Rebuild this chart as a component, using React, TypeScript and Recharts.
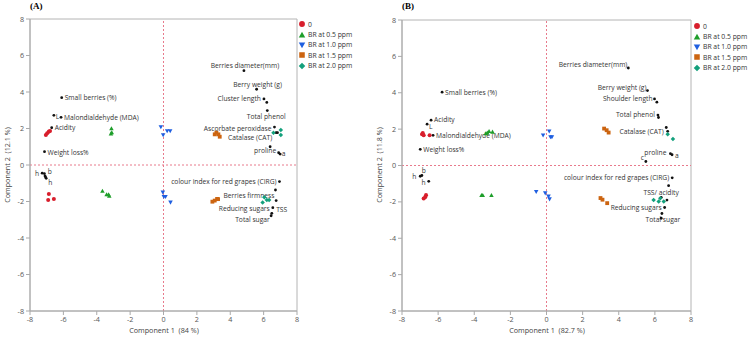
import { ScatterChart, Scatter, XAxis, YAxis, ZAxis, ReferenceLine, ReferenceArea } from 'recharts';

type Pt = { x: number; y: number };
type Loading = { id: string; text: string; x: number; y: number };
type Place = [number, number, 'start' | 'middle' | 'end'];

const axisTicks = [-8, -6, -4, -2, 0, 2, 4, 6, 8];

const groupNames = ['0', 'BR at 0.5 ppm', 'BR at 1.0 ppm', 'BR at 1.5 ppm', 'BR at 2.0 ppm'];
const groupColors = ['#d81e2c', '#1e9e2a', '#1f5fe0', '#cc6410', '#13a07c'];
const groupSymbols = ['circle', 'triangle', 'triangleDown', 'square', 'diamond'];

// scores, panel A
const scoresA0: Pt[] = [
  { x: -7.05, y: 1.64 }, { x: -6.97, y: 1.74 }, { x: -6.87, y: 1.83 }, { x: -6.8, y: 1.86 },
  { x: -6.87, y: -1.59 }, { x: -6.91, y: -1.92 }, { x: -6.57, y: -1.86 },
];
const scoresA05: Pt[] = [
  { x: -3.12, y: 2.0 }, { x: -3.1, y: 1.78 }, { x: -3.15, y: 1.72 },
  { x: -3.66, y: -1.42 }, { x: -3.41, y: -1.61 }, { x: -3.29, y: -1.61 }, { x: -3.25, y: -1.7 },
];
const scoresA10: Pt[] = [
  { x: -0.16, y: 2.08 }, { x: -0.02, y: 1.64 }, { x: 0.22, y: 1.86 }, { x: 0.4, y: 1.86 },
  { x: -0.04, y: -1.5 }, { x: 0.02, y: -1.74 }, { x: 0.12, y: -1.74 }, { x: 0.42, y: -2.05 },
];
const scoresA15: Pt[] = [
  { x: 3.07, y: 1.68 }, { x: 3.17, y: 1.77 }, { x: 3.29, y: 1.68 }, { x: 3.37, y: 1.55 },
  { x: 2.93, y: -2.01 }, { x: 3.07, y: -1.95 }, { x: 3.21, y: -1.86 }, { x: 3.27, y: -1.87 },
];
const scoresA20: Pt[] = [
  { x: 6.59, y: 1.77 }, { x: 7.03, y: 1.92 }, { x: 7.03, y: 1.64 },
  { x: 5.94, y: -2.05 }, { x: 6.04, y: -1.77 }, { x: 6.19, y: -1.92 }, { x: 6.33, y: -1.92 },
];

// scores, panel B
const scoresB0: Pt[] = [
  { x: -6.89, y: 1.72 }, { x: -6.8, y: 1.66 }, { x: -6.47, y: 1.66 }, { x: -6.85, y: 1.78 },
  { x: -6.8, y: -1.81 }, { x: -6.67, y: -1.63 }, { x: -6.72, y: -1.75 },
];
const scoresB05: Pt[] = [
  { x: -3.36, y: 1.76 }, { x: -3.18, y: 1.88 }, { x: -2.99, y: 1.85 }, { x: -3.28, y: 1.8 },
  { x: -3.6, y: -1.63 }, { x: -3.53, y: -1.63 }, { x: -3.05, y: -1.63 },
];
const scoresB10: Pt[] = [
  { x: -0.19, y: 1.66 }, { x: 0.15, y: 1.88 }, { x: 0.22, y: 1.57 }, { x: 0.3, y: 1.57 },
  { x: -0.57, y: -1.44 }, { x: -0.07, y: -1.52 }, { x: 0.11, y: -1.7 }, { x: 0.17, y: -1.85 },
];
const scoresB15: Pt[] = [
  { x: 3.19, y: 2.03 }, { x: 3.33, y: 1.94 }, { x: 3.44, y: 1.81 },
  { x: 2.99, y: -1.79 }, { x: 3.1, y: -1.88 }, { x: 3.36, y: -2.07 },
];
const scoresB20: Pt[] = [
  { x: 6.71, y: 1.72 }, { x: 7.0, y: 1.46 },
  { x: 5.93, y: -1.9 }, { x: 6.21, y: -1.98 }, { x: 6.3, y: -1.8 }, { x: 6.49, y: -1.98 },
];

// variable loadings, panel A
const loadingsA: Loading[] = [
  { id: 'sb', text: 'Small berries (%)', x: -6.1, y: 3.69 },
  { id: 'L', text: 'L', x: -6.57, y: 2.72 },
  { id: 'mda', text: 'Malondialdehyde (MDA)', x: -6.14, y: 2.61 },
  { id: 'ac', text: 'Acidity', x: -6.7, y: 2.04 },
  { id: 'wl', text: 'Weight loss%', x: -7.13, y: 0.73 },
  { id: 'bd', text: 'Berries diameter(mm)', x: 4.82, y: 5.17 },
  { id: 'bw', text: 'Berry weight (g)', x: 5.58, y: 4.15 },
  { id: 'cl', text: 'Cluster length', x: 6.02, y: 3.62 },
  { id: 'cl2', text: '', x: 6.19, y: 3.43 },
  { id: 'tp', text: 'Total phenol', x: 6.22, y: 2.98 },
  { id: 'apx', text: 'Ascorbate peroxidase', x: 6.65, y: 2.08 },
  { id: 'cat', text: 'Catalase (CAT)', x: 6.75, y: 1.77 },
  { id: 'cat2', text: '', x: 6.83, y: 1.77 },
  { id: 'pro', text: 'proline', x: 6.39, y: 1.0 },
  { id: 'a', text: 'a', x: 6.9, y: 0.67 },
  { id: 'a2', text: '', x: 6.99, y: 0.6 },
  { id: 'b', text: 'b', x: -7.14, y: -0.47 },
  { id: 'h', text: 'h', x: -7.27, y: -0.45 },
  { id: 'h2', text: 'h', x: -7.03, y: -0.73 },
  { id: 'k1', text: '', x: -7.1, y: -0.6 },
  { id: 'k2', text: '', x: -7.07, y: -0.66 },
  { id: 'cirg', text: 'colour index for red grapes (CIRG)', x: 6.95, y: -0.91 },
  { id: 'bf', text: 'Berries firmness', x: 6.71, y: -1.37 },
  { id: 'tss', text: 'TSS', x: 6.75, y: -1.95 },
  { id: 'rs', text: 'Reducing sugars', x: 6.55, y: -2.34 },
  { id: 'ts', text: 'Total sugar', x: 6.49, y: -2.65 },
  { id: 'ts2', text: '', x: 6.45, y: -2.78 },
];

// variable loadings, panel B
const loadingsB: Loading[] = [
  { id: 'sb', text: 'Small berries (%)', x: -5.78, y: 4.03 },
  { id: 'ac', text: 'Acidity', x: -6.39, y: 2.49 },
  { id: 'L', text: 'L', x: -6.61, y: 2.27 },
  { id: 'mda', text: 'Malondialdehyde (MDA)', x: -6.28, y: 1.66 },
  { id: 'wl', text: 'Weight loss%', x: -6.99, y: 0.89 },
  { id: 'bd', text: 'Berries diameter(mm)', x: 4.53, y: 5.36 },
  { id: 'bw', text: 'Berry weight (g)', x: 5.59, y: 4.12 },
  { id: 'sl', text: 'Shoulder length', x: 5.98, y: 3.66 },
  { id: 'sl2', text: '', x: 6.11, y: 3.48 },
  { id: 'tp', text: 'Total phenol', x: 6.17, y: 2.77 },
  { id: 'tp2', text: '', x: 6.2, y: 2.64 },
  { id: 'cat2', text: '', x: 6.63, y: 2.09 },
  { id: 'cat', text: 'Catalase (CAT)', x: 6.71, y: 1.88 },
  { id: 'pro', text: 'proline', x: 6.86, y: 0.65 },
  { id: 'a', text: 'a', x: 6.95, y: 0.59 },
  { id: 'c', text: 'c', x: 5.5, y: 0.22 },
  { id: 'h', text: 'h', x: -6.99, y: -0.59 },
  { id: 'b', text: 'b', x: -6.9, y: -0.55 },
  { id: 'h2', text: 'h', x: -6.52, y: -0.87 },
  { id: 'cirg', text: 'colour index for red grapes (CIRG)', x: 6.96, y: -0.68 },
  { id: 'u1', text: '', x: 6.76, y: -1.11 },
  { id: 'tssa', text: 'TSS/ acidity', x: 6.35, y: -1.75 },
  { id: 'u2', text: '', x: 6.67, y: -1.9 },
  { id: 'rs', text: 'Reducing sugars', x: 6.54, y: -2.31 },
  { id: 'ts', text: 'Total sugar', x: 6.39, y: -2.64 },
  { id: 'ts2', text: '', x: 6.35, y: -2.9 },
];

// label offsets from their point: dx, dy, anchor
const labelPosA: Record<string, Place> = {
  sb: [3, 0, 'start'], L: [2, 1, 'start'], mda: [3, 0.5, 'start'], ac: [3, 0, 'start'],
  wl: [3, 0.5, 'start'], bd: [1, -5, 'middle'], bw: [1, -4.5, 'middle'], cl: [-3, 0, 'end'],
  tp: [-1, 5.5, 'middle'], apx: [-3, 1, 'end'], cat: [-4, 5, 'end'], pro: [-5, 4, 'middle'],
  a: [3, 1, 'start'], b: [3.5, -2, 'start'], h: [-3, 0, 'end'], h2: [2, 4.5, 'start'],
  cirg: [-3, 0, 'end'], bf: [-1, 5, 'end'], tss: [0, 8.5, 'start'], rs: [-3, 0.5, 'end'],
  ts: [-2, 6, 'end'],
};
const labelPosB: Record<string, Place> = {
  sb: [3, 0, 'start'], ac: [3, -1, 'start'], L: [2, 2, 'start'], mda: [3, 0.5, 'start'],
  wl: [3, 0, 'start'], bd: [-1, -4, 'end'], bw: [-1, -3.5, 'end'], sl: [-2, 0, 'end'],
  tp: [-3, -1, 'end'], cat: [-4, 0, 'end'], pro: [-4, -1.5, 'end'], a: [3, 1, 'start'],
  c: [-2, -4, 'end'], h: [-4, 0, 'end'], b: [0, -5, 'start'], h2: [-3, 1, 'end'],
  cirg: [-3, 0, 'end'], tssa: [0, -5, 'middle'], rs: [-3, 0, 'end'], ts: [1, 6, 'middle'],
};

const FONT = '"Open Sans", "Noto Sans", sans-serif';

function Marker({ kind, cx, cy, color, s }: { kind: string; cx: number; cy: number; color: string; s: number }) {
  const h = s / 2;
  switch (kind) {
    case 'triangle':
      return <polygon points={`${cx},${cy - h} ${cx + h},${cy + h * 0.8} ${cx - h},${cy + h * 0.8}`} fill={color} />;
    case 'triangleDown':
      return <polygon points={`${cx - h},${cy - h * 0.8} ${cx + h},${cy - h * 0.8} ${cx},${cy + h}`} fill={color} />;
    case 'square':
      return <rect x={cx - h * 0.85} y={cy - h * 0.85} width={s * 0.85} height={s * 0.85} fill={color} />;
    case 'diamond':
      return <polygon points={`${cx},${cy - h} ${cx + h},${cy} ${cx},${cy + h} ${cx - h},${cy}`} fill={color} />;
    default:
      return <circle cx={cx} cy={cy} r={h * 0.9} fill={color} />;
  }
}

function Legend({ left, top }: { left: number; top: number }) {
  return (
    <div style={{ position: 'absolute', left, top, fontFamily: FONT, fontSize: 6.8, color: '#333', whiteSpace: 'nowrap', width: 56 }}>
      {groupNames.map((name, i) => (
        <div key={name} style={{ display: 'flex', alignItems: 'center', height: 10.4 }}>
          <svg width={8} height={8} style={{ marginRight: 2, flex: 'none' }}>
            <Marker kind={groupSymbols[i]} cx={4} cy={4} color={groupColors[i]} s={6.5} />
          </svg>
          <span>{name}</span>
        </div>
      ))}
    </div>
  );
}

interface PanelProps {
  left: number;
  title: string;
  xTitle: string;
  yTitle: string;
  scores: Pt[][];
  loadings: Loading[];
  labelPos: Record<string, Place>;
  margin: { top: number; right: number; bottom: number; left: number };
  yTitleX: number;
  xTitleCx: number;
  legendLeft: number;
  legendTop: number;
}

function Panel(p: PanelProps) {
  const tick = { fontSize: 7.2, fill: '#555', fontFamily: FONT };
  const loadingShape = (props: any) => {
    const { cx, cy, payload } = props;
    const pos = p.labelPos[payload.id];
    return (
      <g>
        <circle cx={cx} cy={cy} r={1.4} fill="#111" />
        {payload.text && pos && (
          <text x={cx + pos[0]} y={cy + pos[1]} textAnchor={pos[2]} dominantBaseline="central"
            fontSize={6.7} fontFamily={FONT} fill="#333">{payload.text}</text>
        )}
      </g>
    );
  };
  return (
    <div style={{ position: 'absolute', left: p.left, top: 0, width: 375, height: 338 }}>
      <div style={{ position: 'absolute', left: p.margin.left + 22, top: 1, fontFamily: '"Liberation Serif", serif', fontWeight: 'bold', fontSize: 9 }}>{p.title}</div>
      <ScatterChart width={375} height={338} margin={p.margin}>
        <XAxis type="number" dataKey="x" domain={[-8, 8]} ticks={axisTicks} allowDataOverflow height={20}
          tick={tick} tickSize={4} tickLine={{ stroke: '#aaa' }} axisLine={{ stroke: '#aaa' }} />
        <YAxis type="number" dataKey="y" domain={[-8, 8]} ticks={axisTicks} allowDataOverflow width={22}
          tick={tick} tickSize={4} tickLine={{ stroke: '#aaa' }} axisLine={{ stroke: '#aaa' }} />
        <ZAxis range={[20, 20]} />
        <ReferenceArea x1={-8} x2={8} y1={-8} y2={8} fill="none" stroke="#b4b4b4" ifOverflow="visible" />
        <ReferenceLine x={0} stroke="#e87a8c" strokeDasharray="2 2" />
        <ReferenceLine y={0} stroke="#e87a8c" strokeDasharray="2 2" />
        <Scatter data={p.loadings} shape={loadingShape} isAnimationActive={false} />
        {p.scores.map((d, i) => (
          <Scatter key={groupNames[i]} name={groupNames[i]} data={d} isAnimationActive={false}
            shape={(s: any) => <Marker kind={groupSymbols[i]} cx={s.cx} cy={s.cy} color={groupColors[i]} s={4.5} />} />
        ))}
      </ScatterChart>
      <div style={{ position: 'absolute', left: p.yTitleX - 50, top: 160, width: 100, textAlign: 'center', transform: 'rotate(-90deg)', fontFamily: FONT, fontSize: 7.2, color: '#444', whiteSpace: 'pre' }}>{p.yTitle}</div>
      <div style={{ position: 'absolute', left: p.xTitleCx - 60, top: 325, width: 120, textAlign: 'center', fontFamily: FONT, fontSize: 7.2, color: '#444', whiteSpace: 'pre' }}>{p.xTitle}</div>
      <Legend left={p.legendLeft} top={p.legendTop} />
    </div>
  );
}

export default function App() {
  return (
    <div style={{ position: 'absolute', left: 0, top: 0, width: 750, height: 338, background: '#fff', overflow: 'hidden' }}>
      <Panel left={0} title="(A)" xTitle="Component 1  (84 %)" yTitle="Component 2  (12.1 %)"
        scores={[scoresA0, scoresA05, scoresA10, scoresA15, scoresA20]} loadings={loadingsA} labelPos={labelPosA}
        margin={{ top: 19, right: 78, bottom: 7, left: 8 }} yTitleX={7} xTitleCx={164} legendLeft={298} legendTop={19} />
      <Panel left={375} title="(B)" xTitle="Component 1  (82.7 %)" yTitle="Component 2  (11.8 %)"
        scores={[scoresB0, scoresB05, scoresB10, scoresB15, scoresB20]} loadings={loadingsB} labelPos={labelPosB}
        margin={{ top: 20, right: 59, bottom: 7, left: 5 }} yTitleX={4} xTitleCx={172} legendLeft={318} legendTop={21} />
    </div>
  );
}
